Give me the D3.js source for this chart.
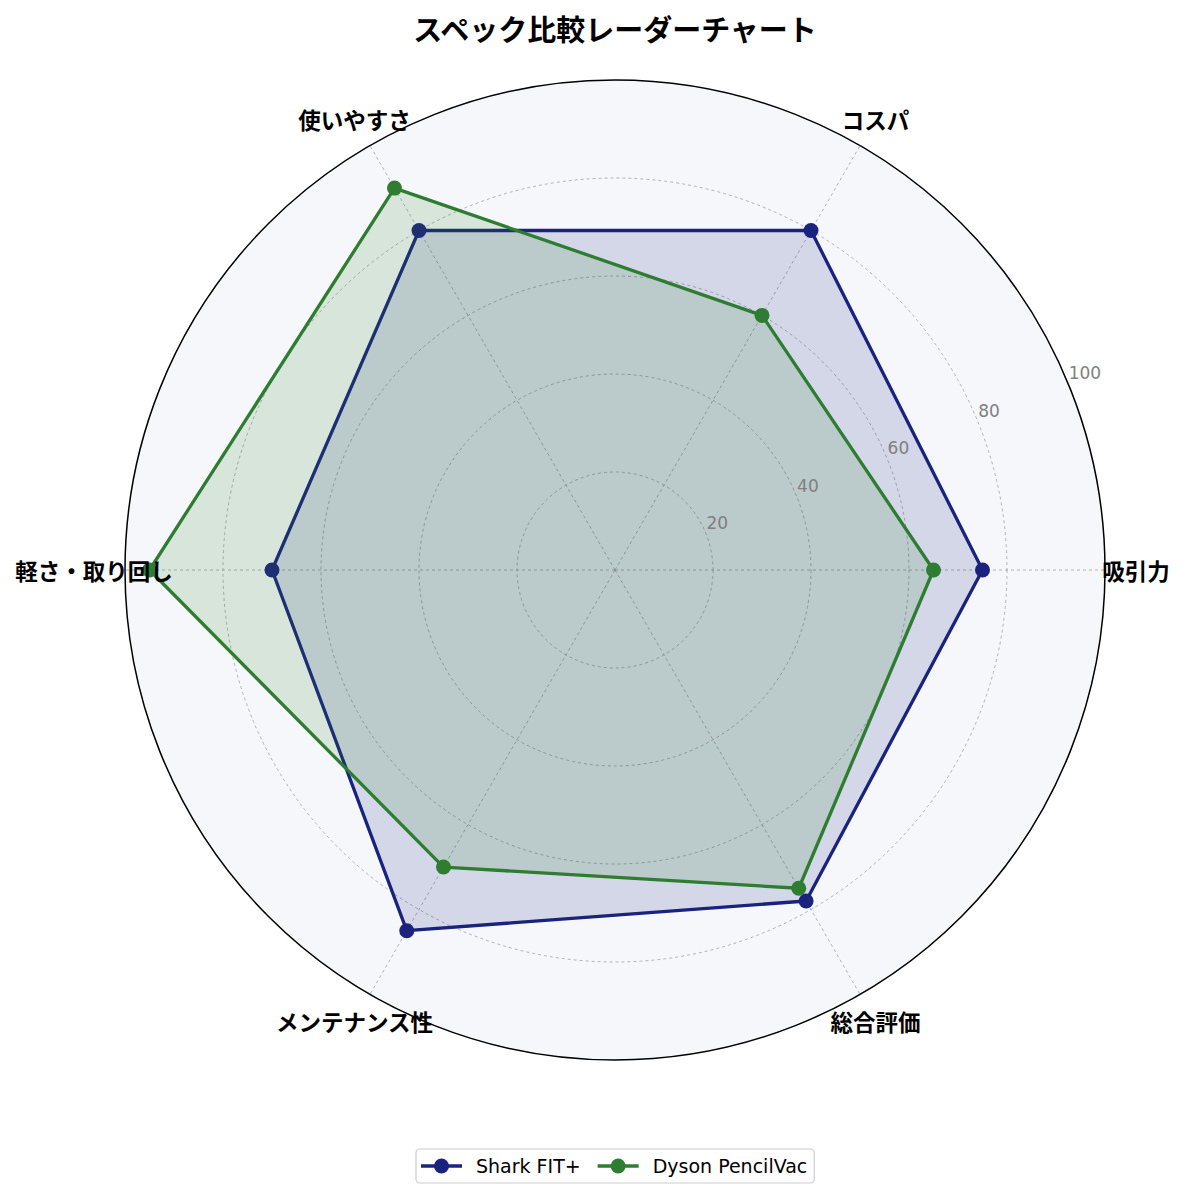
<!DOCTYPE html>
<html>
<head>
<meta charset="utf-8">
<script src="https://cdn.jsdelivr.net/npm/d3@7"></script>
<style>
  body { margin: 0; background: #ffffff; }
  svg { display: block; font-family: "Noto Sans CJK JP", "Noto Sans", sans-serif; }
</style>
</head>
<body>
<div id="chart"></div>
<script>
// data
var axes = ['吸引力', 'コスパ', '使いやすさ', '軽さ・取り回し', 'メンテナンス性', '総合評価'];
var sharkValues = [75, 80, 80, 70, 85, 78];
var dysonValues = [65, 60, 90, 95, 70, 75];
var seriesNames = ['Shark FIT+', 'Dyson PencilVac'];
var seriesColors = ['#1a237e', '#2e7d32'];
var radialTicks = [20, 40, 60, 80, 100];

var width = 1185, height = 1198;
var cx = 615, cy = 570, outerR = 490;
var latin = '"DejaVu Sans", sans-serif';

var svg = d3.select('#chart').append('svg')
  .attr('width', width)
  .attr('height', height);

var r = d3.scaleLinear().domain([0, 100]).range([0, outerR]);
// counter clockwise from the right, like a polar plot
var angle = d3.scaleLinear().domain([0, axes.length]).range([0, 2 * Math.PI]);

function px(i, v) { return cx + r(v) * Math.cos(angle(i)); }
function py(i, v) { return cy - r(v) * Math.sin(angle(i)); }

// background disc
svg.append('circle')
  .attr('cx', cx).attr('cy', cy).attr('r', outerR)
  .attr('fill', '#f5f7fa');

var grid = svg.append('g');
radialTicks.slice(0, -1).forEach(function(t) {
  grid.append('circle')
    .attr('cx', cx).attr('cy', cy).attr('r', r(t))
    .attr('fill', 'none')
    .attr('stroke', '#a0a0a0')
    .attr('stroke-width', 0.8)
    .attr('stroke-dasharray', '3,3');
});
axes.forEach(function(a, i) {
  grid.append('line')
    .attr('x1', cx).attr('y1', cy)
    .attr('x2', px(i, 100)).attr('y2', py(i, 100))
    .attr('stroke', '#a0a0a0')
    .attr('stroke-width', 0.8)
    .attr('stroke-dasharray', '3,3');
});

// series
var allValues = [sharkValues, dysonValues];
var lineGen = d3.line()
  .x(function(d) { return px(d.i, d.v); })
  .y(function(d) { return py(d.i, d.v); })
  .curve(d3.curveLinearClosed);

allValues.forEach(function(vals, s) {
  var pts = vals.map(function(v, i) { return {i: i, v: v}; });
  var g = svg.append('g');
  g.append('path')
    .attr('d', lineGen(pts))
    .attr('fill', 'none')
    .attr('stroke', seriesColors[s])
    .attr('stroke-width', 3.3)
    .attr('stroke-linejoin', 'round');
  g.selectAll('circle').data(pts).enter().append('circle')
    .attr('cx', function(d) { return px(d.i, d.v); })
    .attr('cy', function(d) { return py(d.i, d.v); })
    .attr('r', 7.5)
    .attr('fill', seriesColors[s]);
  g.append('path')
    .attr('d', lineGen(pts))
    .attr('fill', seriesColors[s])
    .attr('fill-opacity', 0.15)
    .attr('stroke', 'none');
});

// outer spine
svg.append('circle')
  .attr('cx', cx).attr('cy', cy).attr('r', outerR)
  .attr('fill', 'none')
  .attr('stroke', '#000')
  .attr('stroke-width', 1.5);

// radial tick labels at 22.5 deg
var labAng = Math.PI / 8;
svg.append('g').selectAll('text').data(radialTicks).enter().append('text')
  .attr('x', function(t) { return cx + r(t) * Math.cos(labAng) + 1; })
  .attr('y', function(t) { return cy - r(t) * Math.sin(labAng) - 3; })
  .attr('font-family', latin)
  .attr('font-size', 17)
  .attr('fill', '#808080')
  .text(function(t) { return t; });

// axis labels
svg.append('g').selectAll('text').data(axes).enter().append('text')
  .attr('x', function(d, i) { return cx + 521 * Math.cos(angle(i)); })
  .attr('y', function(d, i) { return cy - 521 * Math.sin(angle(i)); })
  .attr('text-anchor', 'middle')
  .attr('dominant-baseline', 'central')
  .attr('font-size', 22.5)
  .attr('font-weight', 'bold')
  .attr('fill', '#000')
  .text(function(d) { return d; });

// title
svg.append('text')
  .attr('x', cx).attr('y', 28)
  .attr('text-anchor', 'middle')
  .attr('dominant-baseline', 'central')
  .attr('font-size', 29)
  .attr('font-weight', 'bold')
  .text('スペック比較レーダーチャート');

// legend
var legend = svg.append('g');
var box = legend.append('rect')
  .attr('y', 1149).attr('height', 34)
  .attr('rx', 4)
  .attr('fill', '#fff')
  .attr('stroke', '#cccccc')
  .attr('stroke-width', 1.2);
var lx = 421, ly = 1166;
seriesNames.forEach(function(name, s) {
  legend.append('line')
    .attr('x1', lx).attr('x2', lx + 41)
    .attr('y1', ly).attr('y2', ly)
    .attr('stroke', seriesColors[s])
    .attr('stroke-width', 3.3);
  legend.append('circle')
    .attr('cx', lx + 20.5).attr('cy', ly).attr('r', 7.5)
    .attr('fill', seriesColors[s]);
  var t = legend.append('text')
    .attr('x', lx + 55).attr('y', ly)
    .attr('dominant-baseline', 'central')
    .attr('font-family', latin)
    .attr('font-size', 19)
    .attr('fill', '#000')
    .text(name);
  lx = lx + 55 + t.node().getComputedTextLength() + 17;
});
box.attr('x', 416).attr('width', lx - 17 + 7 - 416);
</script>
</body>
</html>
